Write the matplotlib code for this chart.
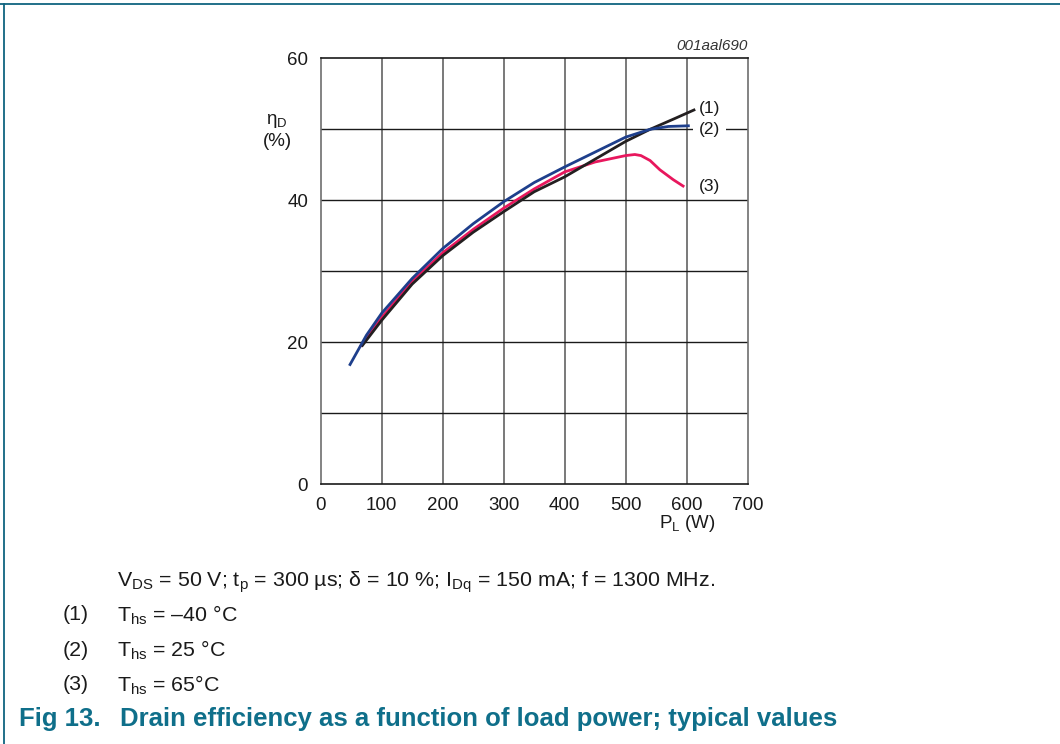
import matplotlib
matplotlib.use("Agg")
import matplotlib.pyplot as plt
from matplotlib.lines import Line2D

plt.rcParams['font.family'] = ['Liberation Sans', 'DejaVu Sans']
plt.rcParams['mathtext.fontset'] = 'custom'
plt.rcParams['mathtext.rm'] = 'Liberation Sans'
plt.rcParams['mathtext.it'] = 'Liberation Sans:italic'
plt.rcParams['mathtext.bf'] = 'Liberation Sans:bold'

# Data
x1 = [67, 100, 150, 200, 250, 300, 350, 400, 450, 500, 540, 580, 614]
y1 = [19.4, 23.1, 28.2, 32.2, 35.5, 38.4, 41.2, 43.3, 45.8, 48.3, 50.0, 51.5, 52.8]

x2 = [47, 75, 100, 150, 200, 250, 300, 350, 400, 450, 500, 540, 570, 605]
y2 = [16.7, 21.0, 24.1, 29.0, 33.2, 36.7, 39.8, 42.5, 44.7, 46.8, 48.9, 50.0, 50.4, 50.5]

x3 = [65, 100, 150, 200, 250, 300, 350, 400, 450, 500, 515, 525, 540, 556, 578, 596]
y3 = [19.4, 23.5, 28.6, 32.6, 35.9, 38.9, 41.6, 44.0, 45.4, 46.3, 46.45, 46.3, 45.6, 44.3, 42.9, 41.9]

xticks = [0, 100, 200, 300, 400, 500, 600, 700]
yticks = [0, 20, 40, 60]
curve_labels = ["(1)", "(2)", "(3)"]

W, H = 1060, 744
fig = plt.figure(figsize=(W / 100, H / 100), dpi=100)

def fx(px):
    return px / W

def fy(py):
    return 1 - py / H

ax = fig.add_axes([fx(320.7), fy(484.3), (747.7 - 320.7) / W, (484.3 - 58.3) / H])
ax.set_xlim(0, 700)
ax.set_ylim(0, 60)

for xv in range(100, 700, 100):
    ax.axvline(xv, color='#6e6e6e', lw=1.3, zorder=1)
for yv in range(10, 60, 10):
    ax.axhline(yv, color='#1a1a1a', lw=1.0, zorder=1)

ax.spines['left'].set_color('#6e6e6e')
ax.spines['right'].set_color('#6e6e6e')
ax.spines['top'].set_color('#1a1a1a')
ax.spines['bottom'].set_color('#1a1a1a')
for s in ax.spines.values():
    s.set_linewidth(1.2)

ax.set_xticks(xticks)
ax.set_yticks(yticks)
ax.tick_params(length=0, labelsize=13.5, pad=9, colors='#1a1a1a')

ax.plot(x3, y3, color='#e8175d', lw=2.0, zorder=3, solid_capstyle='butt', solid_joinstyle='round')
ax.plot(x1, y1, color='#231f20', lw=2.0, zorder=4, solid_capstyle='butt', solid_joinstyle='round')
ax.plot(x2, y2, color='#1e3f8c', lw=2.0, zorder=5, solid_capstyle='butt', solid_joinstyle='round')

ax.text(620, 52.9, curve_labels[0], fontsize=12.5, va='center', ha='left', color='#1a1a1a')
ax.text(620, 50.0, curve_labels[1], fontsize=12.5, va='center', ha='left', color='#1a1a1a',
        bbox=dict(facecolor='white', edgecolor='none', pad=4), zorder=6)
ax.text(620, 42.0, curve_labels[2], fontsize=12.5, va='center', ha='left', color='#1a1a1a')

fig.text(fx(748), fy(46), "001aal690", fontsize=11, style='italic', ha='right', va='center', color='#333333')
fig.text(fx(277), fy(121), "η$_\\mathrm{D}$", fontsize=13.5, ha='center', va='center', color='#1a1a1a')
fig.text(fx(277), fy(142), "(%)", fontsize=13.5, ha='center', va='center', color='#1a1a1a')
fig.text(fx(687), fy(523), r"P$_\mathrm{L}$ (W)", fontsize=13.5, ha='center', va='center', color='#1a1a1a')

fig.text(fx(117), fy(582), r"V$_\mathrm{DS}$ = 50 V; t$_\mathrm{p}$ = 300 µs; δ = 10 %; I$_\mathrm{Dq}$ = 150 mA; f = 1300 MHz.",
         fontsize=15.4, ha='left', va='center', color='#1a1a1a')
leg_rows = [r"T$_\mathrm{hs}$ = –40 °C", r"T$_\mathrm{hs}$ = 25 °C", r"T$_\mathrm{hs}$ = 65°C"]
for i, (lab, row) in enumerate(zip(curve_labels, leg_rows)):
    yy = 615 + 35 * i
    fig.text(fx(63), fy(yy), lab, fontsize=15.4, ha='left', va='center', color='#1a1a1a')
    fig.text(fx(117), fy(yy), row, fontsize=15.4, ha='left', va='center', color='#1a1a1a')

fig.text(fx(19), fy(719), "Fig 13.", fontsize=18.5, fontweight='bold', ha='left', va='center', color='#0f6f8a')
fig.text(fx(120), fy(719), "Drain efficiency as a function of load power; typical values",
         fontsize=18.5, fontweight='bold', ha='left', va='center', color='#0f6f8a')

fig.add_artist(Line2D([fx(0), fx(W)], [fy(4), fy(4)], color='#0f6480', lw=1.3, transform=fig.transFigure))
fig.add_artist(Line2D([fx(3.5), fx(3.5)], [fy(4), fy(744)], color='#0f6480', lw=1.3, transform=fig.transFigure))

fig.savefig("out.png", dpi=100)
